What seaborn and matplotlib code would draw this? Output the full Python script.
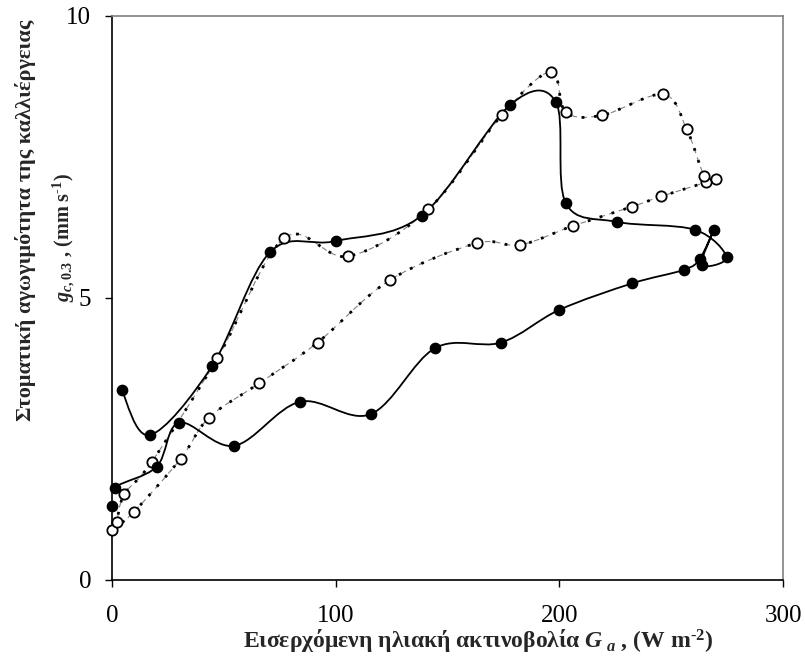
import matplotlib
matplotlib.use('Agg')
import matplotlib.pyplot as plt
from matplotlib.path import Path
from matplotlib.patches import PathPatch
import seaborn as sns

# filled circles, joined in time order (solid smoothed line)
g_full = [0, 1.3, 20, 30, 54.7, 84, 115.6, 144.4, 173.9, 200, 232.6, 255.7, 262.9,
          269.1, 263.6, 274.8, 260.6, 225.6, 202.8, 198.5, 177.9, 138.4, 100, 70.6,
          44.7, 17, 4.3]
gc_full = [1.32, 1.64, 2.01, 2.79, 2.38, 3.16, 2.94, 4.11, 4.21, 4.79, 5.26, 5.50, 5.70,
           6.21, 5.59, 5.72, 6.21, 6.35, 6.69, 8.47, 8.42, 6.46, 6.01, 5.81,
           3.79, 2.57, 3.37]

# open circles, joined in time order (dotted smoothed line)
g_open = [0, 9.8, 30.7, 43.4, 65.9, 91.9, 124.3, 163, 182.4, 206.2, 232.6, 245.4,
          265.5, 269.9, 264.8, 256.9, 246.5, 219.2, 202.8, 196.2, 174.2, 141.4,
          105.6, 77, 47.1, 17.7, 5.5, 2.1]
gc_open = [0.89, 1.21, 2.15, 2.88, 3.49, 4.21, 5.32, 5.97, 5.94, 6.28, 6.62, 6.80,
           7.05, 7.11, 7.17, 8.00, 8.61, 8.24, 8.30, 9.01, 8.24, 6.57,
           5.74, 6.06, 3.93, 2.09, 1.52, 1.02]

x_ticks = [0, 100, 200, 300]
y_ticks = [0, 5, 10]


def smooth_path(xs, ys):
    # bezier path through the points (excel style smoothed line)
    pts = list(zip(xs, ys))
    n = len(pts)
    verts = [pts[0]]
    codes = [Path.MOVETO]
    for i in range(n - 1):
        p0 = pts[max(i - 1, 0)]
        p1 = pts[i]
        p2 = pts[i + 1]
        p3 = pts[min(i + 2, n - 1)]
        c1 = (p1[0] + (p2[0] - p0[0]) / 6, p1[1] + (p2[1] - p0[1]) / 6)
        c2 = (p2[0] - (p3[0] - p1[0]) / 6, p2[1] - (p3[1] - p1[1]) / 6)
        verts += [c1, c2, p2]
        codes += [Path.CURVE4] * 3
    return Path(verts, codes)


sns.set_style('ticks')
plt.rcParams['font.family'] = ['Liberation Serif', 'DejaVu Serif']
plt.rcParams['mathtext.fontset'] = 'custom'
plt.rcParams['mathtext.rm'] = 'Liberation Serif:bold'
plt.rcParams['mathtext.bf'] = 'Liberation Serif:bold'
plt.rcParams['mathtext.it'] = 'Liberation Serif:italic:bold'

fig = plt.figure(figsize=(8.05, 6.64), dpi=100)
ax = fig.add_axes([112 / 805, 84 / 664, 671 / 805, 564 / 664])

# lines
ax.add_patch(PathPatch(smooth_path(g_open, gc_open), fill=False, edgecolor='#808080',
                       lw=0.8, linestyle=(0, (5, 4)), zorder=2))
ax.add_patch(PathPatch(smooth_path(g_open, gc_open), fill=False, edgecolor='black',
                       lw=2.0, linestyle=(0, (1, 3.5)), zorder=2))
ax.add_patch(PathPatch(smooth_path(g_full, gc_full), fill=False, edgecolor='black',
                       lw=1.3, zorder=3))

# markers
sns.scatterplot(x=g_open, y=gc_open, ax=ax, s=55, color='white', edgecolor='black',
                linewidth=1.3, zorder=4, clip_on=False)
sns.scatterplot(x=g_full, y=gc_full, ax=ax, s=55, color='black', edgecolor='black',
                linewidth=1.0, zorder=5, clip_on=False)

ax.set_xlim(0, 300)
ax.set_ylim(0, 10)
ax.set_xticks(x_ticks)
ax.set_yticks(y_ticks)
ax.tick_params(direction='out', length=5, width=1, labelsize=18, colors='black')
ax.tick_params(axis='x', pad=13)
ax.tick_params(axis='y', pad=10)
for s in ['left', 'bottom']:
    ax.spines[s].set_color('black')
    ax.spines[s].set_linewidth(1.2)
for s in ['top', 'right']:
    ax.spines[s].set_color('#808080')
    ax.spines[s].set_linewidth(1.2)

fig.text(478 / 805, 1 - 648 / 664,
         'Εισερχόμενη ηλιακή ακτινοβολία $\\mathit{G}_{\\ \\mathit{a}}$ , (W m$^{\\mathbf{\u2010 2}}$)',
         ha='center', va='baseline', fontsize=17, fontweight='bold')
fig.text(26 / 805, 1 - 220 / 664, 'Στοματική αγωγιμότητα της καλλιέργειας',
         ha='center', va='center', rotation=90, fontsize=16, fontweight='bold')
fig.text(64 / 805, 1 - 238 / 664,
         '$\\mathit{g}_{\\mathit{c,0.3}}$ , (mm s$^{\\mathbf{\u20101}}$)',
         ha='center', va='center', rotation=90, fontsize=14.5, fontweight='bold')

fig.savefig('out.png', dpi=100)
